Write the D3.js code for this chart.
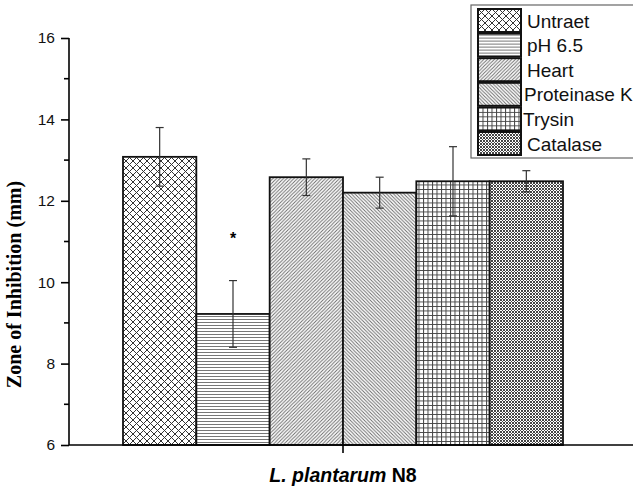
<!DOCTYPE html>
<html>
<head>
<meta charset="utf-8">
<script src="https://cdn.jsdelivr.net/npm/d3@7"></script>
<style>
  body { margin: 0; background: #fff; }
  svg text { font-family: Arial, "Liberation Sans", sans-serif; }
</style>
</head>
<body>
<div id="chart"></div>
<script>
// data
const treatments = ["Untraet", "pH 6.5", "Heart", "Proteinase K", "Trysin", "Catalase"];
const means = [13.08, 9.22, 12.58, 12.2, 12.48, 12.48];
const errors = [0.72, 0.82, 0.45, 0.38, 0.85, 0.26];
const yTicks = [6, 8, 10, 12, 14, 16];
const starred = ["pH 6.5"];

const width = 633, height = 489;

const svg = d3.select("#chart").append("svg")
  .attr("width", width)
  .attr("height", height);

// hatch patterns
const defs = svg.append("defs");
function pattern(id, size, draw) {
  const p = defs.append("pattern")
    .attr("id", id)
    .attr("patternUnits", "userSpaceOnUse")
    .attr("width", size).attr("height", size);
  p.append("rect").attr("width", size).attr("height", size).attr("fill", "#fff");
  draw(p, size);
}
const hatchCol = "#666";

pattern("p0", 7, (p, s) => {
  p.append("path").attr("d", `M0,0L${s},${s}M${s},0L0,${s}M-1,${s-1}L1,${s+1}M${s-1},-1L${s+1},1`)
    .attr("stroke", "#333").attr("stroke-width", 1);
});
pattern("p1", 3, (p, s) => {
  p.append("path").attr("d", `M0,1.5H${s}`).attr("stroke", "#777").attr("stroke-width", 1);
});
pattern("p2", 3.5, (p, s) => {
  p.append("path").attr("d", `M0,${s}L${s},0M-1,1L1,-1M${s-1},${s+1}L${s+1},${s-1}`)
    .attr("stroke", hatchCol).attr("stroke-width", 0.9);
});
pattern("p3", 3.5, (p, s) => {
  p.append("path").attr("d", `M0,0L${s},${s}M-1,${s-1}L1,${s+1}M${s-1},-1L${s+1},1`)
    .attr("stroke", hatchCol).attr("stroke-width", 0.9);
});
pattern("p4", 4.5, (p, s) => {
  p.append("path").attr("d", `M0,0.5H${s}M0.5,0V${s}`).attr("stroke", "#444").attr("stroke-width", 1);
});
pattern("p5", 3, (p, s) => {
  p.append("path").attr("d", `M0,0L${s},${s}M${s},0L0,${s}`).attr("stroke", "#444").attr("stroke-width", 1);
});

const patIds = ["p0", "p1", "p2", "p3", "p4", "p5"];

const axisX0 = 69;
const y = d3.scaleLinear().domain([6, 16]).range([445, 38]);
const x = d3.scaleBand().domain(treatments).range([123, 563]).padding(0);

// bars
svg.append("g").selectAll("rect")
  .data(treatments)
  .join("rect")
  .attr("x", d => x(d))
  .attr("y", (d, i) => y(means[i]))
  .attr("width", x.bandwidth())
  .attr("height", (d, i) => y(6) - y(means[i]))
  .attr("fill", (d, i) => `url(#${patIds[i]})`)
  .attr("stroke", "#111")
  .attr("stroke-width", 1.8);

// error bars
const eb = svg.append("g").attr("stroke", "#333").attr("stroke-width", 1.2);
treatments.forEach((t, i) => {
  const cx = x(t) + x.bandwidth() / 2;
  const top = y(means[i] + errors[i]), bot = y(means[i] - errors[i]);
  eb.append("line").attr("x1", cx).attr("x2", cx).attr("y1", top).attr("y2", bot);
  eb.append("line").attr("x1", cx - 4).attr("x2", cx + 4).attr("y1", top).attr("y2", top);
  eb.append("line").attr("x1", cx - 4).attr("x2", cx + 4).attr("y1", bot).attr("y2", bot);
});

// significance star
svg.append("g").selectAll("text")
  .data(starred)
  .join("text")
  .attr("x", d => x(d) + x.bandwidth() / 2)
  .attr("y", d => y(means[treatments.indexOf(d)] + errors[treatments.indexOf(d)]) - 37)
  .attr("text-anchor", "middle")
  .attr("font-size", 16)
  .attr("font-weight", "bold")
  .text("*");

// y axis
const yAxis = svg.append("g")
  .attr("transform", `translate(${axisX0},0)`)
  .call(d3.axisLeft(y).tickValues(yTicks).tickSize(8).tickPadding(6).tickFormat(d3.format("d")));
yAxis.select(".domain").attr("stroke-width", 1.6).attr("d", `M0,${y(16)}V${y(6)}`);
yAxis.selectAll(".tick line").attr("stroke-width", 1.6);
yAxis.selectAll("text").attr("font-size", 15.5).attr("fill", "#111");
svg.append("g")
  .attr("transform", `translate(${axisX0},0)`)
  .selectAll("line")
  .data(d3.range(7, 16, 2))
  .join("line")
  .attr("x1", -5).attr("x2", 0)
  .attr("y1", d => y(d)).attr("y2", d => y(d))
  .attr("stroke", "#000").attr("stroke-width", 1.6);

// x axis line and centre tick
svg.append("line")
  .attr("x1", axisX0).attr("x2", width)
  .attr("y1", y(6)).attr("y2", y(6))
  .attr("stroke", "#000").attr("stroke-width", 1.6);
const groupX = (x.range()[0] + x.range()[1]) / 2;
svg.append("line")
  .attr("x1", groupX).attr("x2", groupX)
  .attr("y1", y(6)).attr("y2", y(6) + 8)
  .attr("stroke", "#000").attr("stroke-width", 1.6);

// axis titles
svg.append("text")
  .attr("transform", `translate(21,${(y(6) + y(16)) / 2 + 43}) rotate(-90)`)
  .attr("text-anchor", "middle")
  .style("font-family", "'Liberation Serif', 'Times New Roman', serif")
  .attr("font-weight", "bold")
  .attr("font-size", 20)
  .text("Zone of Inhibition (mm)");

const xt = svg.append("text")
  .attr("x", groupX).attr("y", 482)
  .attr("text-anchor", "middle")
  .attr("font-weight", "bold")
  .attr("font-size", 19.5);
xt.append("tspan").attr("font-style", "italic").text("L. plantarum");
xt.append("tspan").text(" N8");

// legend
const leg = svg.append("g").attr("transform", "translate(471,5)");
leg.append("rect")
  .attr("width", 175).attr("height", 153)
  .attr("fill", "#fff").attr("stroke", "#666").attr("stroke-width", 1.2);
const rows = leg.selectAll("g.row")
  .data(treatments)
  .join("g")
  .attr("class", "row")
  .attr("transform", (d, i) => `translate(7,${4 + i * 24.6})`);
rows.append("rect")
  .attr("width", 43).attr("height", 23)
  .attr("fill", (d, i) => `url(#${patIds[i]})`)
  .attr("stroke", "#111").attr("stroke-width", 2);
rows.append("text")
  .attr("x", d => d === "Proteinase K" ? 46 : d === "Trysin" ? 45 : 49)
  .attr("y", 18.5)
  .attr("font-size", 19)
  .attr("fill", "#111")
  .text(d => d);
</script>
</body>
</html>
